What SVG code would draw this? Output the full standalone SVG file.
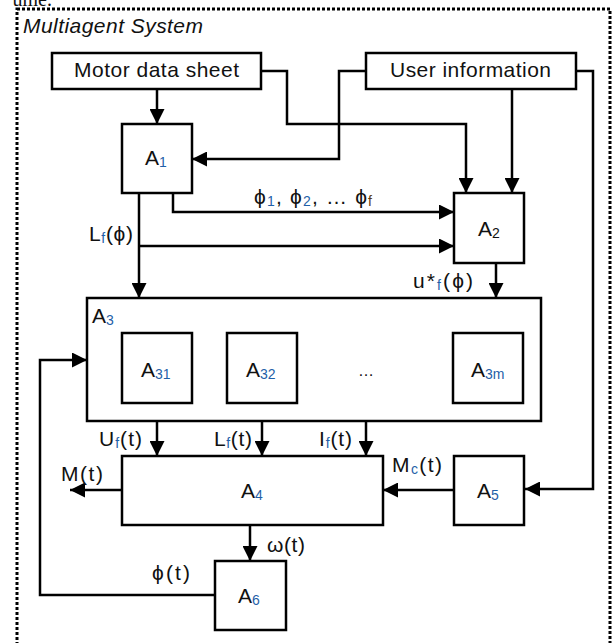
<svg xmlns="http://www.w3.org/2000/svg" width="616" height="643" viewBox="0 0 616 643">
<defs>
<marker id="ah" markerUnits="userSpaceOnUse" markerWidth="15" markerHeight="15" refX="15" refY="7.5" orient="auto">
<path d="M0,0 L15,7.5 L0,15 z" fill="#000"/>
</marker>
<style>
.box{fill:#fff;stroke:#000;stroke-width:2.5}
.con{fill:none;stroke:#000;stroke-width:2.5;marker-end:url(#ah)}
.t{font-family:"Liberation Sans",Arial,sans-serif;fill:#111}
.big{font-size:21px}
.lab{font-size:21px}
.sub{font-size:14px;fill:#1f5fa8}
.subl{font-size:14px;fill:#1f5fa8}
</style>
</defs>
<rect width="616" height="643" fill="#fff"/>
<text x="52" y="6" text-anchor="end" font-family="Liberation Serif,serif" font-size="20" fill="#111">ume.</text>
<rect x="17" y="9" width="593" height="645" fill="none" stroke="#000" stroke-width="3" stroke-dasharray="3 2"/>
<text x="23" y="33" class="t big" font-style="italic" textLength="180">Multiagent System</text>

<g id="connectors">
<path class="con" d="M157,89 V124"/>
<path class="con" d="M261,71 H287 V124 H466 V193"/>
<path class="con" d="M366,71 H339 V159 H192"/>
<path class="con" d="M512,89 V193"/>
<path class="con" d="M576,71 H593 V489 H525"/>
<path class="con" d="M139,193 V298"/>
<path class="con" d="M173,193 V212 H454"/>
<path class="con" d="M139,246 H454"/>
<path class="con" d="M496,263 V298"/>
<path class="con" d="M157,421 V456"/>
<path class="con" d="M262,421 V456"/>
<path class="con" d="M366,421 V456"/>
<path class="con" d="M122,490 H70"/>
<path class="con" d="M454,490 H383"/>
<path class="con" d="M250,525 V561"/>
<path class="con" d="M215,595 H40 V360 H87"/>
</g>

<g id="motor">
<rect class="box" x="52" y="53" width="209" height="36"/>
<text class="t big" x="74" y="77" textLength="165">Motor data sheet</text>
</g>
<g id="user">
<rect class="box" x="366" y="53" width="210" height="36"/>
<text class="t big" x="390" y="77" textLength="161">User information</text>
</g>
<g id="A1">
<rect class="box" x="122" y="124" width="70" height="69"/>
<text class="t big" x="145" y="165">A<tspan class="sub" dy="2">1</tspan></text>
</g>
<g id="A2">
<rect class="box" x="454" y="193" width="70" height="70"/>
<text class="t big" x="478" y="236">A<tspan class="sub" style="fill:#111" dy="2">2</tspan></text>
</g>
<g id="A3">
<rect class="box" x="87" y="298" width="454" height="123" stroke-width="2"/>
<text class="t big" x="92" y="323">A<tspan class="sub" dy="2">3</tspan></text>
</g>
<g id="A31">
<rect class="box" x="122" y="333" width="70" height="70"/>
<text class="t big" x="141" y="377">A<tspan class="sub" dy="2">31</tspan></text>
</g>
<g id="A32">
<rect class="box" x="227" y="333" width="70" height="70"/>
<text class="t big" x="246" y="377">A<tspan class="sub" dy="2">32</tspan></text>
</g>
<text class="t" x="358" y="376" font-size="16">…</text>
<g id="A3m">
<rect class="box" x="453" y="333" width="70" height="70"/>
<text class="t big" x="471" y="377">A<tspan class="sub" dy="2">3m</tspan></text>
</g>
<g id="A4">
<rect class="box" x="122" y="456" width="261" height="69"/>
<text class="t big" x="241" y="498">A<tspan class="sub" dy="2">4</tspan></text>
</g>
<g id="A5">
<rect class="box" x="454" y="456" width="70" height="69"/>
<text class="t big" x="477" y="498">A<tspan class="sub" dy="2">5</tspan></text>
</g>
<g id="A6">
<rect class="box" x="215" y="561" width="71" height="69"/>
<text class="t big" x="238" y="603">A<tspan class="sub" dy="2">6</tspan></text>
</g>

<g id="labels">
<text class="t lab" x="254" y="204" textLength="118">ϕ<tspan class="subl" dy="2">1</tspan><tspan dy="-2">, ϕ</tspan><tspan class="subl" dy="2">2</tspan><tspan dy="-2">, …  ϕ</tspan><tspan class="subl" dy="2" style="fill:#5a3a10">f</tspan></text>
<text class="t lab" x="89" y="241" textLength="44">L<tspan class="subl" dy="2">f</tspan><tspan dy="-2">(ϕ)</tspan></text>
<text class="t lab" x="413" y="288" textLength="60">u*<tspan class="subl" dy="2">f</tspan><tspan dy="-2">(ϕ)</tspan></text>
<text class="t lab" x="99" y="446" textLength="43">U<tspan class="subl" dy="2">f</tspan><tspan dy="-2">(t)</tspan></text>
<text class="t lab" x="214" y="446" textLength="38">L<tspan class="subl" dy="2">f</tspan><tspan dy="-2">(t)</tspan></text>
<text class="t lab" x="319" y="446" textLength="33">I<tspan class="subl" dy="2">f</tspan><tspan dy="-2">(t)</tspan></text>
<text class="t lab" x="61" y="481" textLength="42">M(t)</text>
<text class="t lab" x="392" y="472" textLength="50">M<tspan class="subl" dy="2">c</tspan><tspan dy="-2">(t)</tspan></text>
<text class="t lab" x="267" y="552" textLength="38">ω(t)</text>
<text class="t lab" x="152" y="580" textLength="38">ϕ(t)</text>
</g>
</svg>
